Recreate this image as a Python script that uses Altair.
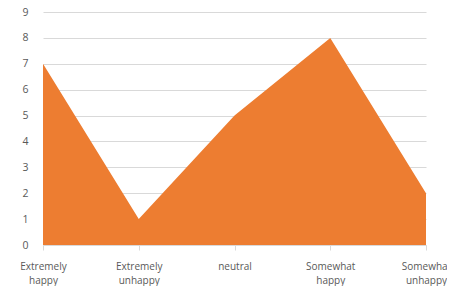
import altair as alt
import pandas as pd

categories = ["Extremely happy", "Extremely unhappy", "neutral", "Somewhat happy", "Somewhat unhappy"]
values = [7, 1, 5, 8, 2]

df = pd.DataFrame({"category": categories, "value": values})

chart = alt.Chart(df).mark_area(color="#ED7D31", opacity=1, interpolate="linear").encode(
    x=alt.X("category:N", sort=categories, title=None,
            scale=alt.Scale(type="point", padding=0),
            axis=alt.Axis(labelAngle=0, labelExpr="split(datum.label, ' ')",
                          labelColor="#595959", labelFont="Open Sans", labelFontSize=10,
                          labelLineHeight=14, labelPadding=11,
                          labelOverlap=False, labelBound=False, labelFlush=False,
                          domainColor="#d9d9d9", tickColor="#d9d9d9", tickSize=5,
                          grid=False)),
    y=alt.Y("value:Q", title=None,
            scale=alt.Scale(domain=[0, 9], nice=False),
            axis=alt.Axis(values=list(range(10)), labelColor="#595959", labelFont="Open Sans",
                          labelFontSize=10.5, labelPadding=15, ticks=False, domain=False,
                          gridColor="#d9d9d9", gridWidth=1)),
).properties(
    width=383, height=233,
    padding={"left": 35, "top": 4, "right": 21, "bottom": 41},
    autosize=alt.AutoSizeParams(type="none"),
).configure_view(stroke=None)

chart.save("out.html", embed_options={"renderer": "svg", "actions": False})
